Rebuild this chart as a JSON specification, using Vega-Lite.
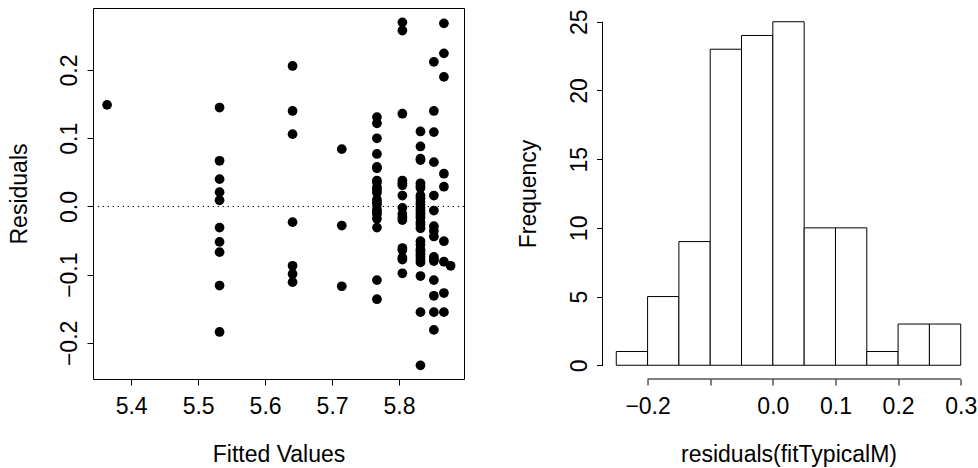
{
  "$schema": "https://vega.github.io/schema/vega-lite/v6.json",
  "autosize": {"type": "pad"},
  "padding": {"left": 8, "top": 7, "right": 4, "bottom": 4},
  "background": "white",
  "bounds": "flush",
  "spacing": 138.5,
  "config": {
    "font": "Liberation Sans",
    "view": {"stroke": null},
    "axis": {
      "labelFont": "Liberation Sans", "titleFont": "Liberation Sans",
      "labelFontSize": 23, "titleFontSize": 23, "titleFontWeight": "normal",
      "labelColor": "black", "titleColor": "black", "tickColor": "black", "domainColor": "black",
      "tickSize": 6, "tickWidth": 1, "grid": false, "labelFlush": false, "labelOverlap": false
    }
  },
  "datasets": {
    "pts": [
      {"fitted": 5.364, "resid": 0.149},
      {"fitted": 5.532, "resid": 0.145}, {"fitted": 5.532, "resid": 0.067}, {"fitted": 5.532, "resid": 0.040}, {"fitted": 5.532, "resid": 0.021}, {"fitted": 5.532, "resid": 0.009},
      {"fitted": 5.532, "resid": -0.031}, {"fitted": 5.532, "resid": -0.052}, {"fitted": 5.532, "resid": -0.067}, {"fitted": 5.532, "resid": -0.116}, {"fitted": 5.532, "resid": -0.184},
      {"fitted": 5.641, "resid": 0.206}, {"fitted": 5.641, "resid": 0.140}, {"fitted": 5.641, "resid": 0.106}, {"fitted": 5.641, "resid": -0.023}, {"fitted": 5.641, "resid": -0.087}, {"fitted": 5.641, "resid": -0.099}, {"fitted": 5.641, "resid": -0.111},
      {"fitted": 5.7145, "resid": 0.084}, {"fitted": 5.7145, "resid": -0.028}, {"fitted": 5.7145, "resid": -0.117},
      {"fitted": 5.767, "resid": 0.131}, {"fitted": 5.767, "resid": 0.122}, {"fitted": 5.767, "resid": 0.100}, {"fitted": 5.767, "resid": 0.077}, {"fitted": 5.767, "resid": 0.056}, {"fitted": 5.767, "resid": 0.058},
      {"fitted": 5.767, "resid": 0.038}, {"fitted": 5.767, "resid": 0.035}, {"fitted": 5.767, "resid": 0.028}, {"fitted": 5.767, "resid": 0.024}, {"fitted": 5.767, "resid": 0.020}, {"fitted": 5.767, "resid": 0.010},
      {"fitted": 5.767, "resid": 0.006}, {"fitted": 5.767, "resid": 0.003}, {"fitted": 5.767, "resid": -0.004}, {"fitted": 5.767, "resid": -0.008}, {"fitted": 5.767, "resid": -0.011}, {"fitted": 5.767, "resid": -0.018},
      {"fitted": 5.767, "resid": -0.031}, {"fitted": 5.767, "resid": -0.108}, {"fitted": 5.767, "resid": -0.136},
      {"fitted": 5.805, "resid": 0.270}, {"fitted": 5.805, "resid": 0.258}, {"fitted": 5.805, "resid": 0.136}, {"fitted": 5.805, "resid": 0.038}, {"fitted": 5.805, "resid": 0.034}, {"fitted": 5.805, "resid": 0.031},
      {"fitted": 5.805, "resid": 0.016}, {"fitted": 5.805, "resid": -0.002}, {"fitted": 5.805, "resid": -0.011}, {"fitted": 5.805, "resid": -0.016}, {"fitted": 5.805, "resid": -0.020}, {"fitted": 5.805, "resid": -0.061},
      {"fitted": 5.805, "resid": -0.064}, {"fitted": 5.805, "resid": -0.075}, {"fitted": 5.805, "resid": -0.078}, {"fitted": 5.805, "resid": -0.098},
      {"fitted": 5.832, "resid": 0.110}, {"fitted": 5.832, "resid": 0.088}, {"fitted": 5.832, "resid": 0.070}, {"fitted": 5.832, "resid": 0.068}, {"fitted": 5.832, "resid": 0.034}, {"fitted": 5.832, "resid": 0.030},
      {"fitted": 5.832, "resid": 0.027}, {"fitted": 5.832, "resid": 0.016}, {"fitted": 5.832, "resid": 0.012}, {"fitted": 5.832, "resid": 0.007}, {"fitted": 5.832, "resid": 0.003}, {"fitted": 5.832, "resid": -0.002},
      {"fitted": 5.832, "resid": -0.006}, {"fitted": 5.832, "resid": -0.010}, {"fitted": 5.832, "resid": -0.014}, {"fitted": 5.832, "resid": -0.017}, {"fitted": 5.832, "resid": -0.023}, {"fitted": 5.832, "resid": -0.027},
      {"fitted": 5.832, "resid": -0.032}, {"fitted": 5.832, "resid": -0.051}, {"fitted": 5.832, "resid": -0.056}, {"fitted": 5.832, "resid": -0.063}, {"fitted": 5.832, "resid": -0.066}, {"fitted": 5.832, "resid": -0.070},
      {"fitted": 5.832, "resid": -0.074}, {"fitted": 5.832, "resid": -0.078}, {"fitted": 5.832, "resid": -0.082}, {"fitted": 5.832, "resid": -0.102}, {"fitted": 5.832, "resid": -0.155}, {"fitted": 5.832, "resid": -0.233},
      {"fitted": 5.852, "resid": 0.212}, {"fitted": 5.852, "resid": 0.140}, {"fitted": 5.852, "resid": 0.109}, {"fitted": 5.852, "resid": 0.065}, {"fitted": 5.852, "resid": 0.016}, {"fitted": 5.852, "resid": -0.006},
      {"fitted": 5.852, "resid": -0.029}, {"fitted": 5.852, "resid": -0.036}, {"fitted": 5.852, "resid": -0.044}, {"fitted": 5.852, "resid": -0.074}, {"fitted": 5.852, "resid": -0.077}, {"fitted": 5.852, "resid": -0.080},
      {"fitted": 5.852, "resid": -0.108}, {"fitted": 5.852, "resid": -0.131}, {"fitted": 5.852, "resid": -0.155}, {"fitted": 5.852, "resid": -0.181},
      {"fitted": 5.867, "resid": 0.2685}, {"fitted": 5.867, "resid": 0.2245}, {"fitted": 5.867, "resid": 0.190}, {"fitted": 5.867, "resid": 0.048}, {"fitted": 5.867, "resid": 0.029},
      {"fitted": 5.867, "resid": -0.051}, {"fitted": 5.867, "resid": -0.081}, {"fitted": 5.867, "resid": -0.127}, {"fitted": 5.867, "resid": -0.155},
      {"fitted": 5.877, "resid": -0.087}
    ],
    "hist": [
      {"bin_start": -0.25, "bin_end": -0.2, "count": 1},
      {"bin_start": -0.2, "bin_end": -0.15, "count": 5},
      {"bin_start": -0.15, "bin_end": -0.1, "count": 9},
      {"bin_start": -0.1, "bin_end": -0.05, "count": 23},
      {"bin_start": -0.05, "bin_end": 0.0, "count": 24},
      {"bin_start": 0.0, "bin_end": 0.05, "count": 25},
      {"bin_start": 0.05, "bin_end": 0.1, "count": 10},
      {"bin_start": 0.1, "bin_end": 0.15, "count": 10},
      {"bin_start": 0.15, "bin_end": 0.2, "count": 1},
      {"bin_start": 0.2, "bin_end": 0.25, "count": 3},
      {"bin_start": 0.25, "bin_end": 0.3, "count": 3}
    ]
  },
  "hconcat": [
    {
      "width": 371,
      "height": 371,
      "view": {"stroke": "black", "strokeWidth": 1},
      "layer": [
        {
          "data": {"name": "pts"},
          "mark": {"type": "circle", "size": 95, "color": "black", "opacity": 1},
          "encoding": {
            "x": {
              "field": "fitted", "type": "quantitative",
              "scale": {"domain": [5.343, 5.897], "nice": false, "zero": false},
              "axis": {
                "values": [5.4, 5.5, 5.6, 5.7, 5.8], "format": ".1f", "domain": false,
                "title": "Fitted Values",
                "labelBaseline": "alphabetic", "labelPadding": 28.3,
                "titleX": 185.5, "titleY": 82.5, "titleAlign": "center", "titleBaseline": "alphabetic"
              }
            },
            "y": {
              "field": "resid", "type": "quantitative",
              "scale": {"domain": [-0.253, 0.291], "nice": false, "zero": false},
              "axis": {
                "values": [-0.2, -0.1, 0, 0.1, 0.2], "format": ".1f", "domain": false,
                "title": "Residuals",
                "labelAngle": 270, "labelAlign": "center", "labelBaseline": "alphabetic", "labelPadding": 10.2,
                "titleAngle": 270, "titleX": -66.5, "titleY": 185.5, "titleAlign": "center", "titleBaseline": "alphabetic"
              }
            }
          }
        },
        {
          "data": {"values": [{}]},
          "mark": {"type": "rule", "color": "black", "strokeWidth": 1, "strokeDash": [1.3, 3.7]},
          "encoding": {"y": {"datum": 0}}
        }
      ]
    },
    {
      "width": 372,
      "height": 371,
      "layer": [
        {
          "data": {"name": "hist"},
          "mark": {"type": "rect", "fill": "white", "stroke": "black", "strokeWidth": 1},
          "encoding": {
            "x": {
              "field": "bin_start", "type": "quantitative",
              "scale": {"domain": [-0.272, 0.322], "nice": false, "zero": false},
              "axis": {
                "values": [-0.2, -0.1, 0, 0.1, 0.2, 0.3], "domain": false,
                "labelExpr": "abs(datum.value + 0.1) < 0.000001 ? '' : format(datum.value, '.1f')",
                "title": "residuals(fitTypicalM)",
                "labelBaseline": "alphabetic", "labelPadding": 28.3,
                "titleX": 186, "titleY": 82, "titleAlign": "center", "titleBaseline": "alphabetic"
              }
            },
            "x2": {"field": "bin_end"},
            "y": {
              "field": "count", "type": "quantitative",
              "scale": {"domain": [-1, 26], "nice": false, "zero": false},
              "axis": {
                "values": [0, 5, 10, 15, 20, 25], "format": "d", "domain": false,
                "title": "Frequency",
                "labelAngle": 270, "labelAlign": "center", "labelBaseline": "alphabetic", "labelPadding": 10.5,
                "titleAngle": 270, "titleX": -67, "titleY": 185.5, "titleAlign": "center", "titleBaseline": "alphabetic"
              }
            },
            "y2": {"datum": 0}
          }
        },
        {
          "data": {"values": [{}]},
          "mark": {"type": "rule", "color": "black", "strokeWidth": 1},
          "encoding": {"x": {"datum": -0.2}, "x2": {"datum": 0.3}, "y": {"datum": -1}}
        },
        {
          "data": {"values": [{}]},
          "mark": {"type": "rule", "color": "black", "strokeWidth": 1},
          "encoding": {"x": {"datum": -0.272}, "y": {"datum": 0}, "y2": {"datum": 25}}
        }
      ]
    }
  ]
}
